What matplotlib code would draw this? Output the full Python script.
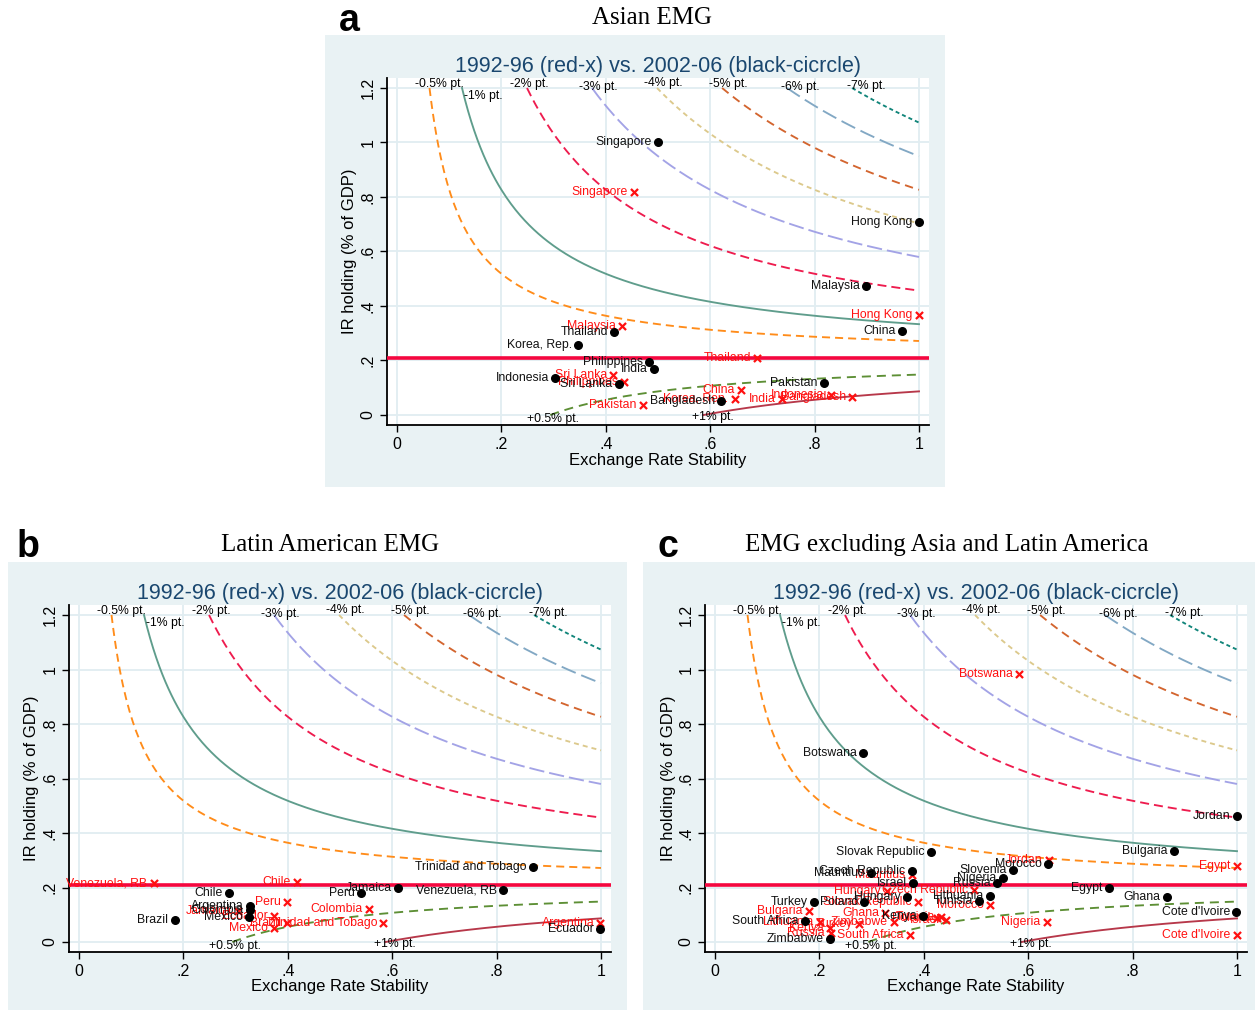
import numpy as np
import matplotlib
matplotlib.use("Agg")
import matplotlib.pyplot as plt
from matplotlib.patches import Rectangle

plt.rcParams['font.family'] = ['Liberation Sans', 'DejaVu Sans']
plt.rcParams['lines.scale_dashes'] = False

# ---------------- data ----------------
# Panel a: Asian EMG
asia_names_0206 = ["Singapore", "Hong Kong", "Malaysia", "China", "Thailand", "Korea, Rep.",
                   "Philippines", "India", "Indonesia", "Sri Lanka", "Pakistan", "Bangladesh"]
asia_ers_0206 = [0.500, 1.000, 0.898, 0.967, 0.416, 0.347, 0.483, 0.492, 0.303, 0.425, 0.818, 0.621]
asia_ir_0206 = [1.003, 0.710, 0.472, 0.308, 0.306, 0.258, 0.193, 0.170, 0.136, 0.114, 0.116, 0.051]

asia_names_9296 = ["Singapore", "Hong Kong", "Malaysia", "Thailand", "Sri Lanka", "Philippines",
                   "China", "Korea, Rep.", "India", "Indonesia", "Bangladesh", "Pakistan"]
asia_ers_9296 = [0.454, 1.000, 0.431, 0.690, 0.414, 0.435, 0.659, 0.647, 0.738, 0.831, 0.872, 0.471]
asia_ir_9296 = [0.818, 0.367, 0.327, 0.209, 0.147, 0.122, 0.092, 0.059, 0.059, 0.073, 0.066, 0.037]

# Panel b: Latin American EMG
latam_names_0206 = ["Trinidad and Tobago", "Venezuela, RB", "Jamaica", "Peru", "Chile", "Argentina",
                    "Colombia", "Mexico", "Brazil", "Ecuador"]
latam_ers_0206 = [0.869, 0.812, 0.612, 0.540, 0.287, 0.328, 0.328, 0.326, 0.183, 0.999]
latam_ir_0206 = [0.277, 0.190, 0.198, 0.178, 0.180, 0.131, 0.117, 0.091, 0.079, 0.046]

latam_names_9296 = ["Venezuela, RB", "Chile", "Peru", "Colombia", "Ecuador", "Jamaica", "Brazil",
                    "Trinidad and Tobago", "Mexico", "Argentina"]
latam_ers_9296 = [0.143, 0.417, 0.399, 0.556, 0.373, 0.305, 0.399, 0.583, 0.373, 0.999]
latam_ir_9296 = [0.215, 0.222, 0.148, 0.120, 0.097, 0.115, 0.070, 0.068, 0.052, 0.068]

# Panel c: EMG excluding Asia and Latin America
other_names_0206 = ["Botswana", "Jordan", "Bulgaria", "Slovak Republic", "Morocco", "Slovenia",
                    "Nigeria", "Russia", "Lithuania", "Tunisia", "Egypt", "Ghana", "Cote d'Ivoire",
                    "Czech Republic", "Mauritius", "Israel", "Hungary", "Poland", "Turkey",
                    "South Africa", "Kenya", "Zimbabwe"]
other_ers_0206 = [0.284, 1.000, 0.879, 0.414, 0.638, 0.570, 0.551, 0.540, 0.526, 0.506, 0.755,
                  0.865, 0.999, 0.377, 0.298, 0.380, 0.367, 0.286, 0.190, 0.172, 0.398, 0.220]
other_ir_0206 = [0.694, 0.462, 0.334, 0.329, 0.285, 0.264, 0.236, 0.215, 0.169, 0.152, 0.199,
                 0.165, 0.109, 0.262, 0.252, 0.218, 0.165, 0.147, 0.147, 0.078, 0.095, 0.010]

other_names_9296 = ["Botswana", "Jordan", "Egypt", "Mauritius", "Hungary", "Czech Republic",
                    "Slovak Republic", "Morocco", "Bulgaria", "Ghana", "Lithuania", "Turkey",
                    "Kenya", "Russia", "Zimbabwe", "Poland", "Tunisia", "Israel", "South Africa",
                    "Nigeria", "Cote d'Ivoire"]
other_ers_9296 = [0.582, 0.640, 1.000, 0.377, 0.329, 0.496, 0.389, 0.527, 0.180, 0.326, 0.201,
                  0.276, 0.220, 0.222, 0.343, 0.425, 0.433, 0.443, 0.373, 0.636, 1.000]
other_ir_9296 = [0.983, 0.300, 0.280, 0.246, 0.188, 0.190, 0.147, 0.134, 0.114, 0.107, 0.073,
                 0.066, 0.051, 0.033, 0.074, 0.088, 0.093, 0.081, 0.026, 0.072, 0.024]

# iso-lines: y = threshold -/+ coef * pct / x
threshold_ir = 0.21
coef_per_pct = 0.1233
neg_pcts = [0.5, 1, 2, 3, 4, 5, 6, 7]
neg_labels = ["-0.5% pt.", "-1% pt.", "-2% pt.", "-3% pt.", "-4% pt.", "-5% pt.", "-6% pt.", "-7% pt."]
neg_label_pos = [(0.082, 1.213), (0.166, 1.172), (0.253, 1.215), (0.386, 1.202),
                 (0.510, 1.218), (0.634, 1.215), (0.772, 1.204), (0.900, 1.207)]
pos_pcts = [0.5, 1]
pos_labels = ["+0.5% pt.", "+1% pt."]
pos_label_pos = [(0.299, -0.013), (0.606, -0.006)]

x_ticks = [0, 0.2, 0.4, 0.6, 0.8, 1.0]
x_ticklabels = ["0", ".2", ".4", ".6", ".8", "1"]
y_ticks = [0, 0.2, 0.4, 0.6, 0.8, 1.0, 1.2]
y_ticklabels = ["0", ".2", ".4", ".6", ".8", "1", "1.2"]

# ---------------- styles ----------------
neg_styles = [
    ('#ff8c1a', (0, (5.8, 3.6))),
    ('#5f9d8c', '-'),
    ('#ee1c4e', (0, (6.5, 3.6))),
    ('#a3a3e6', (0, (11, 3.6))),
    ('#dcc98c', (0, (3.6, 2.9))),
    ('#d3652f', (0, (6, 4))),
    ('#82a8c4', (0, (11, 4.3))),
    ('#11857a', (0, (2.9, 2.2))),
]
pos_styles = [
    ('#5d8f35', (0, (6.5, 4.3))),
    ('#b7384a', '-'),
]

W, H = 1255, 1010
fig = plt.figure(figsize=(W / 100, H / 100), dpi=100)
fig.patch.set_facecolor('white')

BG = '#e9f2f4'
TITLE_C = '#1a476f'
SCALE_X = 522.0
SCALE_Y = 272.5
XLIM = (-0.02, 1.02)
YLIM = (-0.035, 1.235)


def fx(px):
    return px / W


def fy(py):
    return 1 - py / H


def panel(box, x0, y0, letter, letter_xy, title, title_xy,
          n0206, e0206, r0206, n9296, e9296, r9296):
    bx0, by0, bx1, by1 = box
    fig.patches.append(Rectangle((fx(bx0), fy(by1)), fx(bx1 - bx0), (by1 - by0) / H,
                                 transform=fig.transFigure, facecolor=BG, edgecolor='none',
                                 zorder=-10))
    left = x0 + XLIM[0] * SCALE_X
    right = x0 + XLIM[1] * SCALE_X
    bottom = y0 - YLIM[0] * SCALE_Y
    top = y0 - YLIM[1] * SCALE_Y
    ax = fig.add_axes([fx(left), fy(bottom), fx(right - left), (bottom - top) / H])
    ax.set_zorder(1)
    ax.set_facecolor('white')
    ax.set_xlim(*XLIM)
    ax.set_ylim(*YLIM)
    for s in ['top', 'right']:
        ax.spines[s].set_visible(False)
    for s in ['left', 'bottom']:
        ax.spines[s].set_linewidth(1.3)
        ax.spines[s].set_color('black')
    ax.set_xticks(x_ticks)
    ax.set_xticklabels(x_ticklabels)
    ax.set_yticks(y_ticks)
    ax.set_yticklabels(y_ticklabels)
    ax.tick_params(direction='out', length=5, width=1, labelsize=11.5, pad=4)
    ax.tick_params(axis='y', labelrotation=90, pad=3)
    for lab in ax.get_yticklabels():
        lab.set_va('center')
    ax.grid(True, color='#e1edf1', lw=1.3)
    ax.set_axisbelow(True)

    # iso-lines
    for p, (c, ls), lab, pos in zip(neg_pcts, neg_styles, neg_labels, neg_label_pos):
        k = coef_per_pct * p
        xs = np.linspace(k / (1.2 - threshold_ir), 1.0, 300)
        ax.plot(xs, threshold_ir + k / xs, color=c, ls=ls, lw=1.35, zorder=2)
        ax.text(pos[0], pos[1], lab, ha='center', va='center', fontsize=8.8, zorder=6)
    for p, (c, ls), lab, pos in zip(pos_pcts, pos_styles, pos_labels, pos_label_pos):
        k = coef_per_pct * p
        xs = np.linspace(k / threshold_ir, 1.0, 300)
        ax.plot(xs, threshold_ir - k / xs, color=c, ls=ls, lw=1.35, zorder=2)
        ax.text(pos[0], pos[1], lab, ha='center', va='center', fontsize=8.8, zorder=6)

    ax.axhline(threshold_ir, color='#f5073f', lw=2.6, zorder=3)

    # 1992-96: red x
    ax.scatter(e9296, r9296, marker='x', s=26, color='#ff1010', linewidths=1.6, zorder=4)
    for n, x, y in zip(n9296, e9296, r9296):
        ax.annotate(n, (x, y), xytext=(-4.5, 0), textcoords='offset points', ha='right',
                    va='center', fontsize=8.8, color='#ff1010', zorder=5)
    # 2002-06: black circles
    ax.scatter(e0206, r0206, marker='o', s=30, color='black', zorder=6)
    for n, x, y in zip(n0206, e0206, r0206):
        ax.annotate(n, (x, y), xytext=(-4.5, 0), textcoords='offset points', ha='right',
                    va='center', fontsize=8.8, color='#111111', zorder=7)

    # titles and labels
    fig.text(fx(x0 + 0.5 * SCALE_X), fy(title_xy[2]),
             "1992-96 (red-x) vs. 2002-06 (black-cicrcle)", ha='center', va='center',
             fontsize=15.5, color=TITLE_C)
    fig.text(fx(x0 + 0.5 * SCALE_X), fy(y0 + 45), "Exchange Rate Stability", ha='center',
             va='center', fontsize=12)
    fig.text(fx(x0 - 47), fy(y0 - 0.6 * SCALE_Y), "IR holding (% of GDP)", ha='center',
             va='center', rotation=90, fontsize=12)
    fig.text(fx(title_xy[0]), fy(title_xy[1]), title, ha='center', va='center',
             fontsize=18, family=['Liberation Serif', 'DejaVu Serif'])
    fig.text(fx(letter_xy[0]), fy(letter_xy[1]), letter, ha='center', va='center',
             fontsize=27, fontweight='bold')
    return ax


panel((325, 35, 945, 487), 397, 415, 'a', (349, 21), 'Asian EMG', (652, 18, 66),
      asia_names_0206, asia_ers_0206, asia_ir_0206,
      asia_names_9296, asia_ers_9296, asia_ir_9296)
panel((8, 562, 627, 1010), 79, 942, 'b', (28, 547), 'Latin American EMG', (330, 545, 593),
      latam_names_0206, latam_ers_0206, latam_ir_0206,
      latam_names_9296, latam_ers_9296, latam_ir_9296)
panel((643, 562, 1255, 1010), 715, 942, 'c', (668, 547),
      'EMG excluding Asia and Latin America', (947, 545, 593),
      other_names_0206, other_ers_0206, other_ir_0206,
      other_names_9296, other_ers_9296, other_ir_9296)

fig.savefig('out.png', dpi=100, facecolor='white')
